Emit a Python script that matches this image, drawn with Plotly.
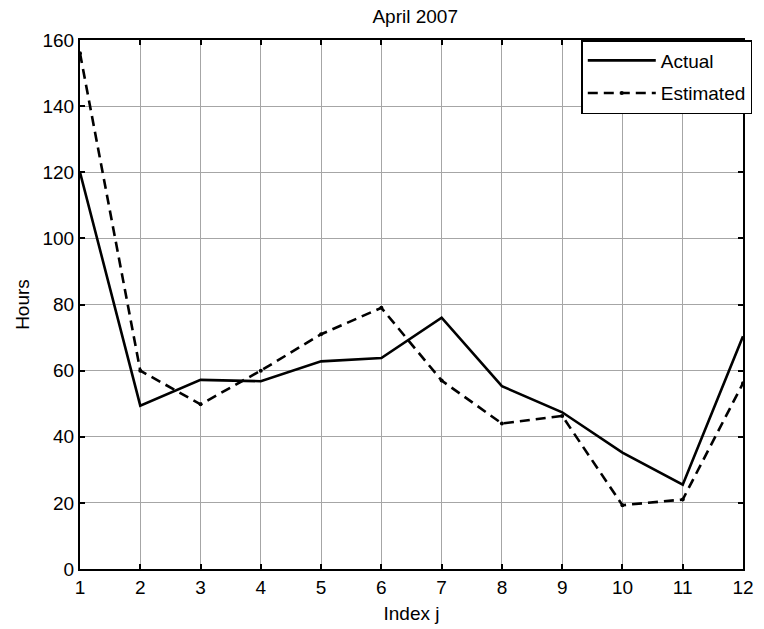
import plotly.graph_objects as go

# Index j for each month entry
index_j = [1, 2, 3, 4, 5, 6, 7, 8, 9, 10, 11, 12]

# Hours: measured vs. model estimate
actual_hours = [120, 49.4, 57.2, 56.8, 62.8, 63.8, 76, 55.3, 47.4, 35.2, 25.5, 70.4]
estimated_hours = [156, 60, 49.8, 60, 71, 79, 57, 44, 46.3, 19.3, 21, 56.2]

x_ticks = list(range(1, 13))
y_ticks = list(range(0, 161, 20))

FONT = "Liberation Sans, Arial, Helvetica, sans-serif"
FS = 19

fig = go.Figure()

fig.add_trace(go.Scatter(
    x=index_j, y=actual_hours, name="Actual", mode="lines",
    legendgroup="a",
    line=dict(color="black", width=2.6),
))
fig.add_trace(go.Scatter(
    x=index_j, y=estimated_hours, name="Estimated", mode="lines+markers",
    legendgroup="b",
    line=dict(color="black", width=2.6, dash="10px,6px"),
    marker=dict(color="black", size=4),
))

axis_common = dict(
    showline=True, linecolor="black", linewidth=2, mirror="allticks",
    ticks="inside", ticklen=5, tickwidth=1.5, tickcolor="black",
    showgrid=True, gridcolor="#a6a6a6", gridwidth=1,
    zeroline=False, automargin=False,
    tickfont=dict(family=FONT, size=FS, color="black"),
)

fig.update_xaxes(
    range=[1, 12], tickvals=x_ticks, ticktext=[str(v) for v in x_ticks],
    title=dict(text="Index j", font=dict(family=FONT, size=FS, color="black"), standoff=10),
    **axis_common,
)
fig.update_yaxes(
    range=[0, 160], tickvals=y_ticks, ticktext=[str(v) for v in y_ticks],
    title=dict(text="Hours", font=dict(family=FONT, size=FS, color="black"), standoff=8),
    **axis_common,
)

fig.update_layout(
    width=764, height=629,
    margin=dict(l=80, r=13, t=40, b=60),
    paper_bgcolor="white", plot_bgcolor="white",
    title=dict(text="April 2007", x=0.5435, xanchor="center", y=0.974, yanchor="middle",
               font=dict(family=FONT, size=FS, color="black")),
    font=dict(family=FONT, size=FS, color="black"),
    legend=dict(
        x=1.014, y=1, xanchor="right", yanchor="top",
        bgcolor="white", bordercolor="black", borderwidth=1.5,
        font=dict(family=FONT, size=FS, color="black"),
        itemwidth=68, tracegroupgap=5, traceorder="grouped",
    ),
    showlegend=True,
)

fig.write_html("out.html")
